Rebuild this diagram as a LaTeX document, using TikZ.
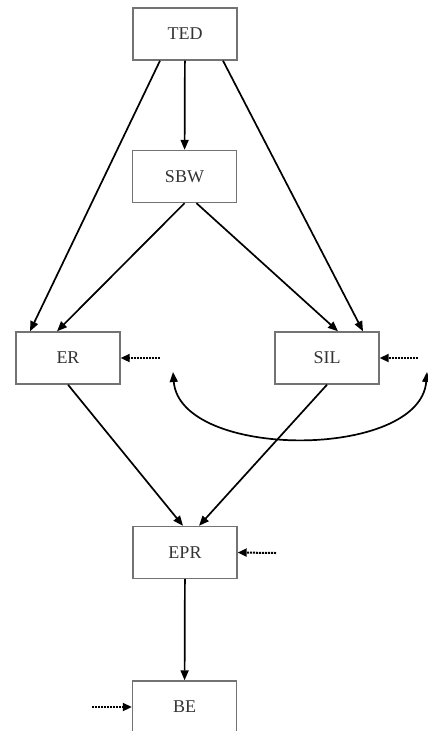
\documentclass[tikz,border=0pt]{standalone}
\usepackage{fontspec}
\setmainfont{Liberation Serif}
\usetikzlibrary{arrows.meta}

\begin{document}
\begin{tikzpicture}[x=1pt, y=-1pt,
  box/.style={draw=black!55, line width=1.4pt, minimum width=104pt, minimum height=52pt,
    inner sep=0pt, text=black!80, font=\fontsize{18}{20}\selectfont},
  link/.style={line width=1.7pt, -{Triangle[length=10pt, width=8pt]}},
  extern/.style={line width=2pt, densely dotted, -{Triangle[length=9pt, width=8pt]}}]
\useasboundingbox (0,0) rectangle (428,731);

% Boxes
\node[box] (TED) at (185,34) {TED};
\node[box] (SBW) at (184.5,176.5) {SBW};
\node[box] (ER)  at (68,358) {ER};
\node[box] (SIL) at (327,358) {SIL};
\node[box] (EPR) at (185,552.5) {EPR};
\node[box] (BE)  at (184.5,707) {BE};

% Links between boxes
\draw[link] (TED) -- (SBW);
\draw[link] ([xshift=-25pt]TED.south) -- ([xshift=-38pt]ER.north);
\draw[link] ([xshift=38pt]TED.south) -- ([xshift=36pt]SIL.north);
\draw[link] (SBW.south) -- ([xshift=-11pt]ER.north);
\draw[link] ([xshift=12pt]SBW.south) -- ([xshift=11pt]SIL.north);
\draw[link] (ER.south) -- ([xshift=-2pt]EPR.north);
\draw[link] (SIL.south) -- ([xshift=14pt]EPR.north);
\draw[link] (EPR) -- (BE);

% Feedback between ER and SIL
\coordinate (cl) at (173,372);
\coordinate (cr) at (427,372);
\draw[link, {Triangle[length=10pt, width=8pt]}-{Triangle[length=10pt, width=8pt]}]
  (cl) .. controls (180,460) and (420,460) .. (cr);

% External inputs
\coordinate (inER)  at (160,358);
\coordinate (inSIL) at (418,358);
\coordinate (inEPR) at (276,553);
\coordinate (inBE)  at (92,707);
\draw[extern] (inER) -- (ER.east);
\draw[extern] (inSIL) -- (SIL.east);
\draw[extern] (inEPR) -- (EPR.east);
\draw[extern] (inBE) -- (BE.west);
\end{tikzpicture}
\end{document}
